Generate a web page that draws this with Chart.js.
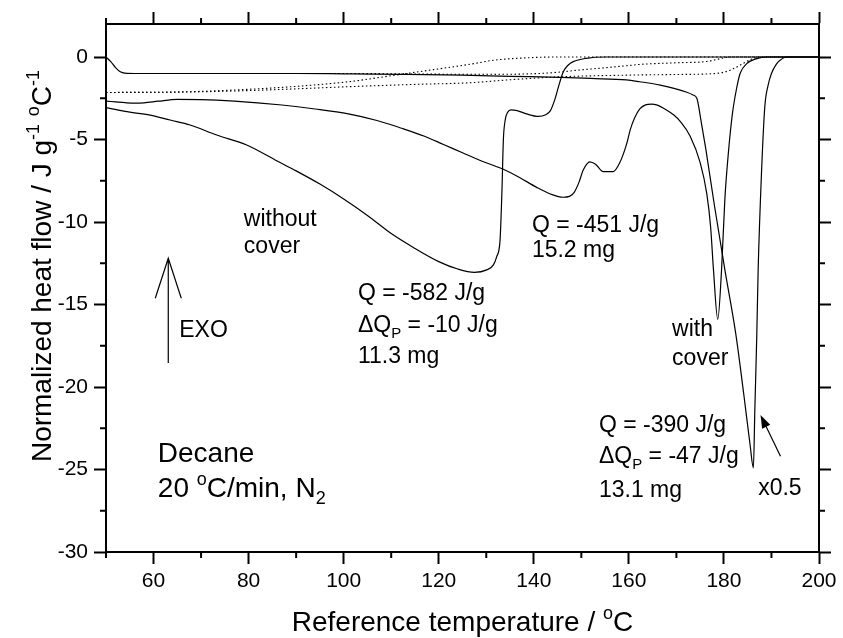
<!DOCTYPE html>
<html>
<head>
<meta charset="utf-8">
<script src="https://cdn.jsdelivr.net/npm/chart.js@4.4.1/dist/chart.umd.min.js"></script>
<style>
    html, body { margin: 0; padding: 0; background: #fff; }
</style>
</head>
<body>
<canvas id="chart" width="843" height="638"></canvas>
<script>
const FONT = "'Liberation Sans', Arial, Helvetica, sans-serif";

// without cover, 11.3 mg
const openTemp = [50, 54, 59.3, 63.5, 67.7, 73.3, 79.6, 86, 90, 95, 100, 105, 110, 115, 120, 124, 127.5, 130.1, 131.5, 132.2, 132.9, 133.3, 133.6, 134.0, 134.5, 135.2, 136.5, 138.5, 140.9, 142.5, 143.5, 144.4, 145.2, 146.2, 147.2, 148.3, 151, 155, 200];
const openFlow = [-3.07, -3.3, -3.52, -3.82, -4.12, -4.73, -5.33, -6.3, -6.9, -7.7, -8.6, -9.6, -10.7, -11.6, -12.4, -12.85, -13.05, -12.9, -12.6, -12.1, -11.1, -8.1, -5.0, -3.8, -3.35, -3.2, -3.25, -3.45, -3.6, -3.5, -3.25, -2.6, -1.8, -0.9, -0.5, -0.28, -0.08, 0, 0];

// with cover, 15.2 mg
const coverATemp = [50, 52, 54, 56, 58, 61, 65, 70, 77, 87, 94, 101, 107, 112, 117, 121, 125, 129, 133.6, 137, 140.6, 143.5, 146.2, 147.5, 148.5, 149.5, 150.4, 151.8, 153, 154.6, 156.7, 158.1, 159.5, 160.3, 161.2, 162.3, 163.5, 164.8, 166, 167.3, 169.4, 170.8, 172.9, 175, 176.4, 177.2, 177.8, 178.7, 179.5, 180.2, 181, 181.8, 182.6, 183.4, 184.8, 186.9, 189, 200];
const coverAFlow = [-2.67, -2.72, -2.77, -2.8, -2.78, -2.68, -2.57, -2.58, -2.67, -2.91, -3.15, -3.45, -3.85, -4.3, -4.8, -5.3, -5.8, -6.3, -6.8, -7.3, -7.9, -8.3, -8.5, -8.45, -8.2, -7.6, -6.85, -6.35, -6.5, -6.95, -6.95, -6.4, -5.3, -4.4, -3.7, -3.15, -2.9, -2.85, -2.92, -3.1, -3.5, -3.9, -4.8, -6.4, -8.3, -10.3, -12.9, -15.9, -12.9, -8.6, -5.6, -3.4, -2.0, -1.0, -0.4, -0.1, 0, 0];

// with cover, 13.1 mg (plotted x0.5)
const coverBTemp = [50, 51, 52, 53, 54.4, 56, 60, 70, 80, 90, 100, 112, 125, 135, 145.5, 152, 159.5, 162.3, 166.6, 169.5, 172.2, 173.5, 174.3, 175.2, 176.2, 178, 180.2, 182.5, 184.2, 185.5, 186.2, 186.5, 186.9, 187.2, 187.9, 188.6, 189.3, 190, 191, 191.8, 193.2, 200];
const coverBFlow = [0, -0.28, -0.64, -0.89, -0.99, -1.0, -1.0, -1.0, -1.0, -1.0, -1.02, -1.05, -1.1, -1.17, -1.23, -1.3, -1.39, -1.5, -1.7, -1.9, -2.14, -2.3, -2.5, -3.9, -5.6, -9.0, -12.9, -16.8, -20.5, -23.5, -24.9, -21.4, -17.0, -12.9, -7.05, -3.0, -1.7, -1.0, -0.45, -0.2, 0, 0];

// dotted baselines
const baseOpenTemp = [50, 65, 77, 90, 101, 112, 120, 126.6, 131.5, 138.5, 145, 200];
const baseOpenFlow = [-2.15, -2.12, -2.0, -1.78, -1.5, -1.05, -0.72, -0.44, -0.2, -0.05, 0, 0];
const baseATemp = [50, 65, 77, 90, 101, 115, 126.6, 135, 145.5, 159.5, 170, 177, 179.5, 181.3, 183.4, 185.5, 187.6, 200];
const baseAFlow = [-2.15, -2.13, -2.06, -1.93, -1.8, -1.66, -1.56, -1.38, -1.2, -1.1, -1.06, -1.02, -0.95, -0.8, -0.5, -0.17, 0, 0];
const baseBTemp = [56, 100, 120, 132, 143, 150, 155, 159.5, 162.3, 170, 176.4, 178.5, 180, 182, 200];
const baseBFlow = [-1.0, -1.0, -1.04, -1.05, -0.97, -0.78, -0.65, -0.53, -0.45, -0.35, -0.27, -0.15, -0.05, 0, 0];

const xTicks = [60, 80, 100, 120, 140, 160, 180, 200];
const yTicks = [0, -5, -10, -15, -20, -25, -30];

// text placed in data coordinates; parts: plain string, or [text, 'sub'|'sup']
const notes = [
    {x: 79.0, y: -10.24, parts: ['without']},
    {x: 79.0, y: -11.88, parts: ['cover']},
    {x: 65.4, y: -16.97, parts: ['EXO']},
    {x: 103.0, y: -14.73, parts: ['Q = -582 J/g']},
    {x: 103.0, y: -16.67, parts: ['\u0394Q', ['P', 'sub'], ' = -10 J/g']},
    {x: 103.0, y: -18.55, parts: ['11.3 mg']},
    {x: 139.6, y: -10.6, parts: ['Q = -451 J/g']},
    {x: 139.6, y: -12.12, parts: ['15.2 mg']},
    {x: 169.1, y: -16.91, parts: ['with']},
    {x: 169.1, y: -18.67, parts: ['cover']},
    {x: 153.7, y: -22.73, parts: ['Q = -390 J/g']},
    {x: 153.7, y: -24.6, parts: ['\u0394Q', ['P', 'sub'], ' = -47 J/g']},
    {x: 153.7, y: -26.67, parts: ['13.1 mg']},
    {x: 187.2, y: -26.55, parts: ['x0.5']},
    {x: 60.9, y: -24.55, parts: ['Decane'], big: true},
    {x: 60.9, y: -26.67, parts: ['20 ', ['o', 'sup'], 'C/min, N', ['2', 'sub']], big: true},
];

function pts(xs, ys) {
    return xs.map((x, i) => ({x: x, y: ys[i]}));
}

function drawRich(ctx, x, y, parts, size, center) {
    const seg = parts.map(p => typeof p === 'string' ? {t: p, k: ''} : {t: p[0], k: p[1]});
    const fontFor = k => (k ? Math.round(size * 0.64) : size) + 'px ' + FONT;
    let w = 0;
    seg.forEach(s => {
        ctx.font = fontFor(s.k);
        s.w = ctx.measureText(s.t).width;
        w += s.w;
    });
    let cx = center ? x - w / 2 : x;
    seg.forEach(s => {
        ctx.font = fontFor(s.k);
        let dy = 0;
        if (s.k === 'sub') dy = size * 0.26;
        if (s.k === 'sup') dy = -size * 0.42;
        ctx.fillText(s.t, cx, y + dy);
        cx += s.w;
    });
}

const majorTick = (c, step) => (c.tick && c.tick.value % step === 0 ? '#000' : 'rgba(0,0,0,0)');

function axis(pos, min, max, step, major, labels) {
    const horizontal = pos === 'bottom' || pos === 'top';
    return {
        type: 'linear',
        position: pos,
        min: min,
        max: max,
        bounds: 'data',
        border: {display: true, color: '#000', width: 2},
        grid: {
            drawOnChartArea: false,
            drawTicks: true,
            tickLength: 12,
            tickWidth: 2,
            tickColor: c => majorTick(c, major),
        },
        ticks: {
            display: labels,
            stepSize: step,
            includeBounds: false,
            autoSkip: false,
            maxRotation: 0,
            padding: horizontal ? 5 : 6,
            color: '#000',
            font: {family: FONT, size: 21},
            callback: v => {
                const list = horizontal ? xTicks : yTicks;
                return list.includes(v) ? String(v) : '';
            },
        },
        afterFit: s => {
            if (pos === 'bottom') s.height = 86;
            if (pos === 'top') s.height = 24;
            if (pos === 'left') s.width = 106;
            if (pos === 'right') s.width = 24;
        },
    };
}

const frameExtras = {
    id: 'frameExtras',
    afterDraw(chart) {
        const {ctx, chartArea: a, scales: {x, y}} = chart;
        ctx.save();
        ctx.strokeStyle = '#000';
        ctx.fillStyle = '#000';

        // minor ticks (shorter)
        ctx.lineWidth = 2;
        ctx.beginPath();
        for (let v = 50; v <= 200; v += 20) {
            const px = x.getPixelForValue(v);
            ctx.moveTo(px, a.bottom); ctx.lineTo(px, a.bottom + 6);
            ctx.moveTo(px, a.top); ctx.lineTo(px, a.top - 6);
        }
        for (let v = -27.5; v < 0; v += 5) {
            const py = y.getPixelForValue(v);
            ctx.moveTo(a.left, py); ctx.lineTo(a.left - 6, py);
            ctx.moveTo(a.right, py); ctx.lineTo(a.right + 6, py);
        }
        ctx.stroke();

        // axis titles
        ctx.textAlign = 'left';
        ctx.textBaseline = 'alphabetic';
        drawRich(ctx, (a.left + a.right) / 2, 631, ['Reference temperature / ', ['o', 'sup'], 'C'], 28, true);
        ctx.save();
        ctx.translate(51, 266);
        ctx.rotate(-Math.PI / 2);
        drawRich(ctx, 0, 0, ['Normalized heat flow / J g', ['-1', 'sup'], ' ', ['o', 'sup'], 'C', ['-1', 'sup']], 28, true);
        ctx.restore();

        // annotations
        notes.forEach(n => {
            drawRich(ctx, x.getPixelForValue(n.x), y.getPixelForValue(n.y), n.parts, n.big ? 28 : 23, false);
        });

        // EXO arrow (open head)
        ctx.lineWidth = 1.2;
        const ex = x.getPixelForValue(63.1);
        const eTop = y.getPixelForValue(-12.2);
        const eBot = y.getPixelForValue(-18.55);
        ctx.beginPath();
        ctx.moveTo(ex, eBot); ctx.lineTo(ex, eTop);
        ctx.moveTo(ex - 13, eTop + 40); ctx.lineTo(ex, eTop); ctx.lineTo(ex + 13, eTop + 40);
        ctx.stroke();

        // x0.5 arrow (filled head)
        const x0 = x.getPixelForValue(191.9), y0 = y.getPixelForValue(-24.2);
        const x1 = x.getPixelForValue(187.7), y1 = y.getPixelForValue(-21.7);
        const ang = Math.atan2(y1 - y0, x1 - x0);
        ctx.beginPath();
        ctx.moveTo(x0, y0); ctx.lineTo(x1 - 10 * Math.cos(ang), y1 - 10 * Math.sin(ang));
        ctx.stroke();
        ctx.beginPath();
        ctx.moveTo(x1, y1);
        ctx.lineTo(x1 - 13 * Math.cos(ang) + 4.5 * Math.sin(ang), y1 - 13 * Math.sin(ang) - 4.5 * Math.cos(ang));
        ctx.lineTo(x1 - 13 * Math.cos(ang) - 4.5 * Math.sin(ang), y1 - 13 * Math.sin(ang) + 4.5 * Math.cos(ang));
        ctx.closePath();
        ctx.fill();
        ctx.restore();
    },
};

const solid = {borderColor: '#000', borderWidth: 1.2, pointRadius: 0, fill: false, cubicInterpolationMode: 'monotone'};
const dotted = {borderColor: '#000', borderWidth: 1.1, pointRadius: 0, fill: false, borderDash: [1.5, 2.5], cubicInterpolationMode: 'monotone'};

new Chart(document.getElementById('chart'), {
    type: 'line',
    data: {
        datasets: [
            {label: 'baseline open', data: pts(baseOpenTemp, baseOpenFlow), ...dotted},
            {label: 'baseline 15.2 mg', data: pts(baseATemp, baseAFlow), ...dotted},
            {label: 'baseline 13.1 mg', data: pts(baseBTemp, baseBFlow), ...dotted},
            {label: 'without cover 11.3 mg', data: pts(openTemp, openFlow), ...solid},
            {label: 'with cover 15.2 mg', data: pts(coverATemp, coverAFlow), ...solid},
            {label: 'with cover 13.1 mg x0.5', data: pts(coverBTemp, coverBFlow), ...solid},
        ],
    },
    options: {
        responsive: false,
        animation: false,
        devicePixelRatio: 1,
        layout: {padding: 0},
        scales: {
            x: axis('bottom', 50, 200, 10, 20, true),
            x2: axis('top', 50, 200, 10, 20, false),
            y: axis('left', -30, 2, 2.5, 5, true),
            y2: axis('right', -30, 2, 2.5, 5, false),
        },
        plugins: {
            legend: {display: false},
            tooltip: {enabled: false},
        },
    },
    plugins: [frameExtras],
});
</script>
</body>
</html>
